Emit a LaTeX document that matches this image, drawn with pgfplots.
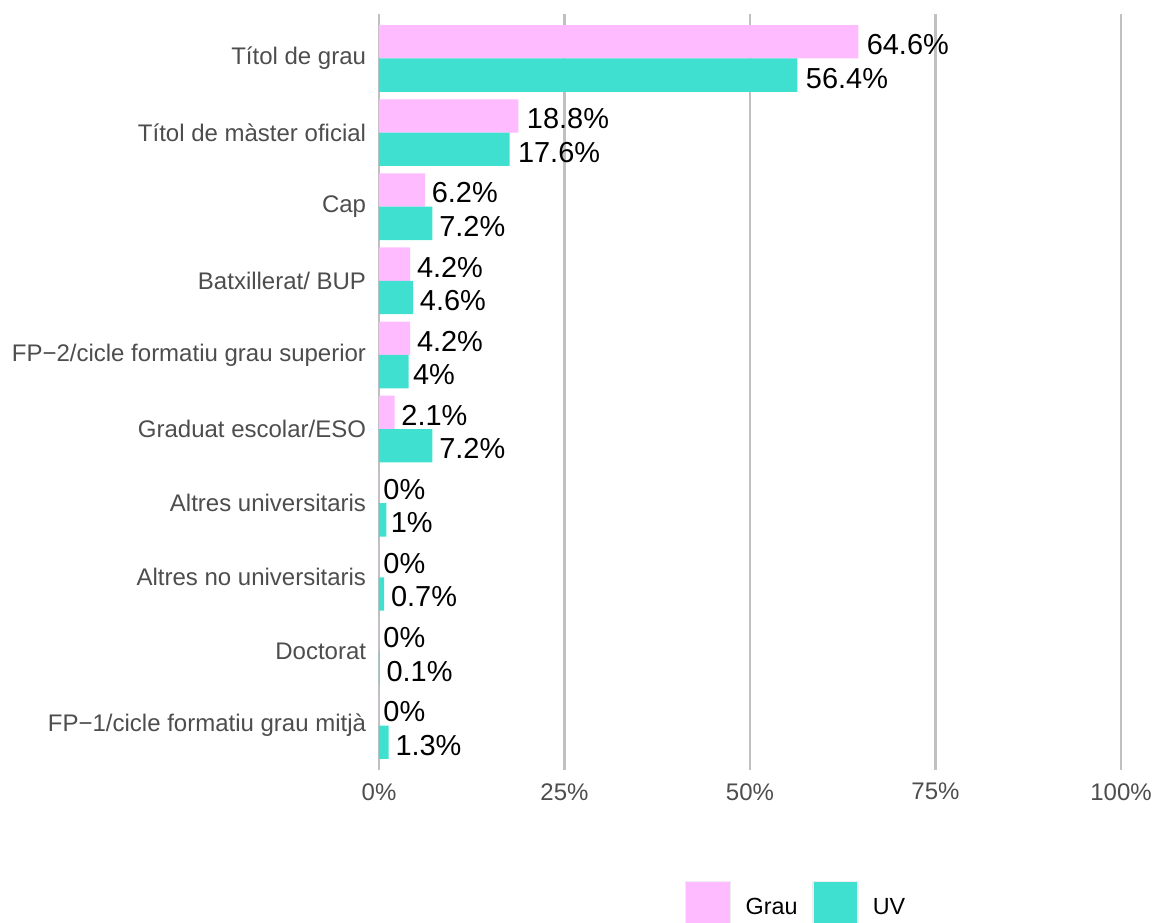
\documentclass[border=0pt]{standalone}
\usepackage{pgfplots}
\pgfplotsset{compat=1.18}
\usepackage{pgfplotstable}
\usepackage{fontspec}
\setmainfont{Liberation Sans}
\definecolor{grau}{RGB}{255,187,255}
\definecolor{uv}{RGB}{64,224,208}
\definecolor{gridc}{RGB}{192,192,192}
\definecolor{tickc}{RGB}{77,77,77}
\definecolor{keyb}{RGB}{238,238,238}

\pgfplotstableread{
y grau uv
9 64.6 56.4
8 18.8 17.6
7 6.2 7.2
6 4.2 4.6
5 4.2 4
4 2.1 7.2
3 0 1
2 0 0.7
1 0 0.1
0 0 1.3
}\data

\newcommand\lbl[1]{\setbox0=\hbox{#1\%}\kern0.1\wd0\box0}

\begin{document}
\begin{tikzpicture}
\useasboundingbox (0,0) rectangle (864.75pt,691.5pt);
\begin{axis}[
  at={(284.25pt,114pt)}, anchor=south west,
  scale only axis, width=556.5pt, height=567pt,
  xmin=0, xmax=100, ymin=-0.6, ymax=9.6,
  axis line style={draw=none}, major tick style={draw=none},
  xtick={0,25,50,75,100},
  xticklabels={0\%,25\%,50\%,75\%,100\%},
  ytick={0,...,9},
  yticklabels={FP−1/cicle formatiu grau mitjà, Doctorat, Altres no universitaris, Altres universitaris, Graduat escolar/ESO, FP−2/cicle formatiu grau superior, Batxillerat/ BUP, Cap, Títol de màster oficial, Títol de grau},
  xmajorgrids, grid style={gridc, line width=1.8pt},
  xbar, bar width=25pt,
  clip=false,
  yticklabel style={anchor=east, inner sep=0pt, xshift=-5.25pt, font=\fontsize{18pt}{21pt}\selectfont, text=tickc},
  xticklabel style={anchor=north, inner sep=0pt, yshift=-9.75pt, font=\fontsize{18pt}{21pt}\selectfont, text=tickc},
  point meta=explicit symbolic,
  nodes near coords={\lbl{\pgfplotspointmeta}},
  every node near coord/.append style={anchor=west, inner sep=0pt, xshift=0pt, yshift=-2.25pt, font=\fontsize{21.7pt}{26pt}\selectfont, text=black},
  legend columns=2,
  legend style={at={(0.4124,-0.1772)}, anchor=west, draw=none, fill=none, inner sep=0pt, outer sep=0pt,
    font=\fontsize{17.5pt}{21pt}\selectfont, text=black,
    /tikz/every even column/.append style={column sep=9pt}},
]
\addplot[fill=grau, draw=none, bar shift=12.5pt,
  legend image code/.code={\draw[fill=grau, draw=keyb, line width=1pt] (0pt,-14.25pt) rectangle (33.75pt,19.5pt); \path (43pt,0pt);}]
  table[x=grau, y=y, meta=grau] {\data};
\addlegendentry{Grau}
\addplot[fill=uv, draw=none, bar shift=-12.5pt,
  legend image code/.code={\draw[fill=uv, draw=keyb, line width=1pt] (0pt,-14.25pt) rectangle (33.75pt,19.5pt); \path (43pt,0pt);}]
  table[x=uv, y=y, meta=uv] {\data};
\addlegendentry{UV}
\end{axis}
\end{tikzpicture}
\end{document}
